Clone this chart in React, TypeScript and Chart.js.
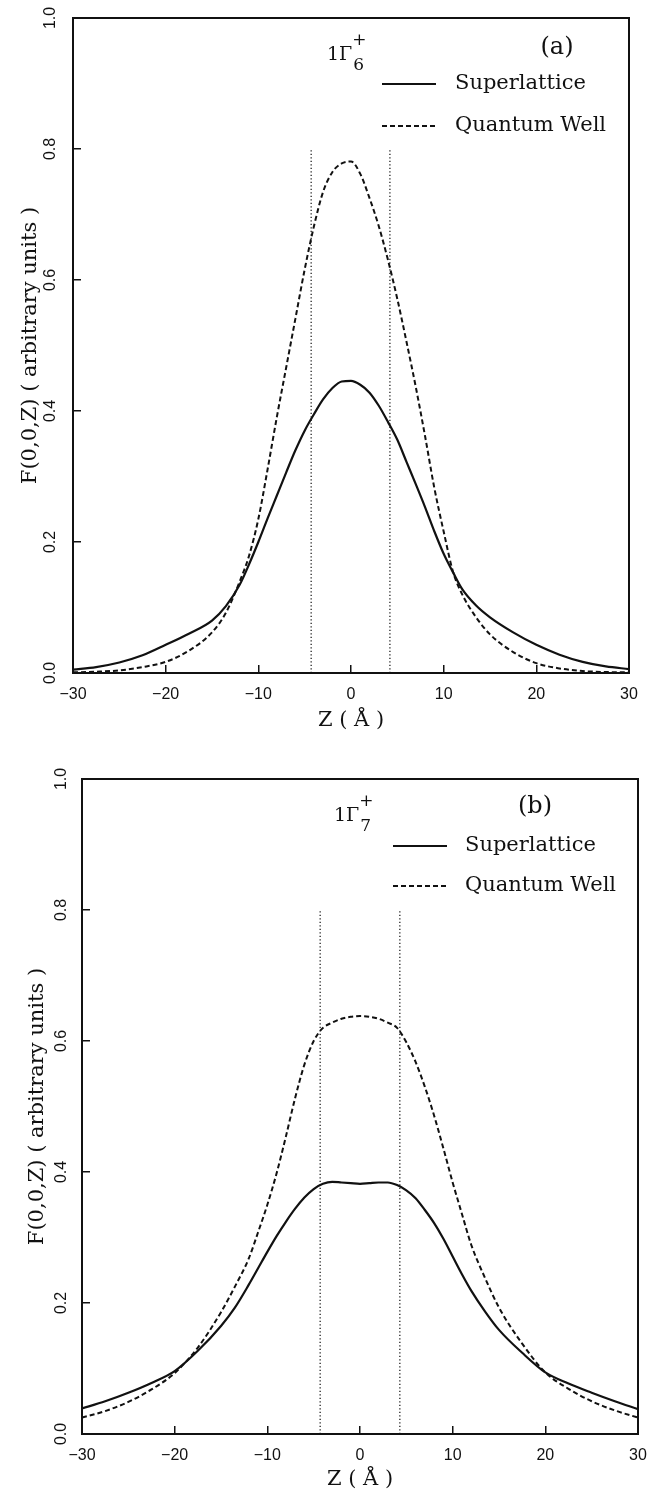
import React, { useEffect, useRef } from "react";
import { Chart, registerables } from "chart.js";

Chart.register(...registerables);

// ---------------- data ----------------
const zGrid = [
  -30, -27.5, -25, -22.5, -20, -17.5, -15, -13.5, -12, -11, -10, -9, -8, -7, -6, -5, -4, -3, -2, -1,
  0, 1, 2, 3, 4, 5, 6, 7, 8, 9, 10, 11, 12, 13.5, 15, 17.5, 20, 22.5, 25, 27.5, 30,
];

// panel (a) 1Γ6+
const superlatticeA = [
  0.005, 0.009, 0.016, 0.027, 0.043, 0.06, 0.08, 0.102, 0.135, 0.166, 0.2, 0.236, 0.271, 0.306, 0.34,
  0.37, 0.395, 0.418, 0.435, 0.445, 0.446, 0.44, 0.428, 0.408, 0.383, 0.356, 0.322, 0.288, 0.253, 0.216,
  0.182, 0.154, 0.128, 0.103, 0.085, 0.062, 0.043, 0.028, 0.017, 0.01, 0.006,
];
const quantumWellA = [
  0.001, 0.002, 0.004, 0.009, 0.017, 0.034, 0.062, 0.092, 0.14, 0.179, 0.235, 0.311, 0.391, 0.466, 0.541,
  0.616, 0.682, 0.735, 0.765, 0.778, 0.781, 0.762, 0.725, 0.682, 0.63, 0.571, 0.505, 0.436, 0.361, 0.282,
  0.216, 0.155, 0.12, 0.085, 0.059, 0.032, 0.015, 0.007, 0.003, 0.0015, 0.001,
];

// panel (b) 1Γ7+
const superlatticeB = [
  0.039, 0.05, 0.063, 0.078, 0.096, 0.127, 0.165, 0.193, 0.228, 0.253, 0.278, 0.302, 0.324, 0.344, 0.361,
  0.374, 0.382, 0.385, 0.384, 0.383, 0.382, 0.383, 0.384, 0.384, 0.38, 0.372, 0.36, 0.342, 0.322, 0.298,
  0.271, 0.244, 0.219, 0.187, 0.159, 0.124, 0.094, 0.077, 0.063, 0.05, 0.038,
];
const quantumWellB = [
  0.025, 0.035, 0.049, 0.068, 0.093, 0.132, 0.186, 0.225, 0.268, 0.308, 0.35, 0.398, 0.454, 0.513, 0.564,
  0.6, 0.62, 0.628, 0.634, 0.637, 0.638, 0.637, 0.634, 0.628, 0.62, 0.598, 0.568, 0.53, 0.486, 0.436,
  0.384, 0.336, 0.289, 0.238, 0.193, 0.138, 0.094, 0.069, 0.05, 0.036, 0.025,
];

// well boundaries (dotted vertical lines)
const wellEdgesA = [-4.3, 4.2];
const wellEdgesB = [-4.3, 4.3];
const wellLineTop = 0.8;

const seriesNames = ["Superlattice", "Quantum Well"];
const zMin = -30;
const zMax = 30;
const zStep = 10;
const fMin = 0;
const fMax = 1;
const fStep = 0.2;
const X_TITLE = "Z ( Å )";
const Y_TITLE = "F(0,0,Z) ( arbitrary units )";

// ---------------- style ----------------
const INK = "#111";
const SERIF = '"DejaVu Serif", "Liberation Serif", serif';
const SANS = '"Liberation Sans", Arial, sans-serif';
const DASH = [5, 3];
const DOT = [1.2, 2.3];
const W = 654;

type Panel = {
  height: number;
  area: { left: number; right: number; top: number; bottom: number };
  z: number[];
  superlattice: number[];
  quantumWell: number[];
  wells: number[];
  sub: string;
  tag: string;
  tagX: number;
  tagDy: number;
  gammaX: number;
  legendX: number;
  legendTextX: number;
  legendDy: number[];
  yTitlePad: number;
  yTickPad: number;
  xTitlePad: number;
};

const panelA: Panel = {
  height: 746,
  area: { left: 73, right: 629, top: 18, bottom: 673 },
  z: zGrid,
  superlattice: superlatticeA,
  quantumWell: quantumWellA,
  wells: wellEdgesA,
  sub: "6",
  tag: "(a)",
  tagX: 557,
  tagDy: 30,
  gammaX: 327,
  legendX: 382,
  legendTextX: 455,
  legendDy: [66, 108],
  yTitlePad: 18,
  yTickPad: 19,
  xTitlePad: 13,
};

const panelB: Panel = {
  height: 747,
  area: { left: 82, right: 638, top: 33, bottom: 688 },
  z: zGrid,
  superlattice: superlatticeB,
  quantumWell: quantumWellB,
  wells: wellEdgesB,
  sub: "7",
  tag: "(b)",
  tagX: 535,
  tagDy: 28,
  gammaX: 334,
  legendX: 393,
  legendTextX: 465,
  legendDy: [67, 107],
  yTitlePad: 25,
  yTickPad: 17,
  xTitlePad: 1,
};

function makeAnnotations(p: Panel) {
  return {
    id: "annotations",
    afterDraw(chart: any) {
      const ctx: CanvasRenderingContext2D = chart.ctx;
      const a = chart.chartArea;
      ctx.save();
      // frame
      ctx.strokeStyle = INK;
      ctx.lineWidth = 2;
      ctx.setLineDash([]);
      ctx.strokeRect(a.left, a.top, a.right - a.left, a.bottom - a.top);

      ctx.fillStyle = INK;
      // state label 1Γ with sub/superscript
      ctx.textAlign = "left";
      ctx.textBaseline = "alphabetic";
      ctx.font = `19px ${SERIF}`;
      ctx.fillText("1Γ", p.gammaX, a.top + 42);
      const gw = ctx.measureText("1Γ").width;
      ctx.font = `17px ${SERIF}`;
      ctx.fillText("+", p.gammaX + gw, a.top + 27);
      ctx.fillText(p.sub, p.gammaX + gw + 1, a.top + 52);

      // panel tag
      ctx.font = `24px ${SERIF}`;
      ctx.textAlign = "center";
      ctx.textBaseline = "middle";
      ctx.fillText(p.tag, p.tagX, a.top + p.tagDy);

      // legend
      ctx.font = `21px ${SERIF}`;
      ctx.textAlign = "left";
      p.legendDy.forEach((dy, i) => {
        const y = a.top + dy;
        ctx.beginPath();
        ctx.lineWidth = 2;
        ctx.setLineDash(i === 0 ? [] : DASH);
        ctx.moveTo(p.legendX, y);
        ctx.lineTo(p.legendX + 54, y);
        ctx.stroke();
        ctx.setLineDash([]);
        ctx.fillText(seriesNames[i], p.legendTextX, y);
      });
      ctx.restore();
    },
  };
}

function PanelChart({ panel }: { panel: Panel }) {
  const ref = useRef<HTMLCanvasElement>(null);
  useEffect(() => {
    const canvas = ref.current;
    if (!canvas) return;
    const { area, height } = panel;
    const pts = (ys: number[]) => panel.z.map((x, i) => ({ x, y: ys[i] }));
    const chart = new Chart(canvas, {
      type: "line",
      data: {
        datasets: [
          {
            label: seriesNames[0],
            data: pts(panel.superlattice),
            borderColor: INK,
            borderWidth: 2.2,
            pointRadius: 0,
            cubicInterpolationMode: "monotone",
            fill: false,
          },
          {
            label: seriesNames[1],
            data: pts(panel.quantumWell),
            borderColor: INK,
            borderWidth: 2,
            borderDash: DASH,
            pointRadius: 0,
            cubicInterpolationMode: "monotone",
            fill: false,
          },
          ...panel.wells.map((w) => ({
            label: "well edge",
            data: [
              { x: w, y: fMin },
              { x: w, y: wellLineTop },
            ],
            borderColor: INK,
            borderWidth: 1.2,
            borderDash: DOT,
            pointRadius: 0,
            fill: false,
          })),
        ],
      } as any,
      options: {
        responsive: false,
        animation: false,
        events: [],
        layout: {
          padding: { left: 0, top: area.top, right: W - area.right, bottom: 0 },
        },
        plugins: {
          legend: { display: false },
          tooltip: { enabled: false },
        },
        scales: {
          x: {
            type: "linear",
            min: zMin,
            max: zMax,
            border: { display: false },
            grid: {
              drawOnChartArea: false,
              drawTicks: true,
              tickLength: -8,
              color: INK,
              lineWidth: 1.5,
            },
            ticks: {
              stepSize: zStep,
              color: INK,
              padding: 20,
              maxRotation: 0,
              autoSkip: false,
              font: { family: SANS, size: 16 },
              callback: (v: any) => (Number(v) < 0 ? "\u2212" + Math.abs(Number(v)) : String(v)),
            },
            title: {
              display: true,
              text: X_TITLE,
              color: INK,
              font: { family: SERIF, size: 21 },
              padding: { top: 0, bottom: panel.xTitlePad },
            },
            afterFit: (s: any) => {
              s.height = height - area.bottom;
              s.paddingLeft = 0;
              s.paddingRight = 0;
            },
          },
          y: {
            type: "linear",
            min: fMin,
            max: fMax,
            border: { display: false },
            grid: {
              drawOnChartArea: false,
              drawTicks: true,
              tickLength: -8,
              color: INK,
              lineWidth: 1.5,
            },
            ticks: {
              stepSize: fStep,
              color: INK,
              padding: panel.yTickPad,
              minRotation: 90,
              maxRotation: 90,
              crossAlign: "center",
              autoSkip: false,
              font: { family: SANS, size: 16 },
              callback: (v: any) => Number(v).toFixed(1),
            },
            title: {
              display: true,
              text: Y_TITLE,
              color: INK,
              font: { family: SERIF, size: 21 },
              padding: { top: panel.yTitlePad, bottom: 0 },
            },
            afterFit: (s: any) => {
              s.width = area.left;
              s.paddingTop = 0;
              s.paddingBottom = 0;
            },
          },
        },
      } as any,
      plugins: [makeAnnotations(panel)],
    });
    return () => chart.destroy();
  }, [panel]);
  return (
    <canvas
      ref={ref}
      width={W}
      height={panel.height}
      style={{ display: "block", width: W, height: panel.height }}
    />
  );
}

export default function App() {
  return (
    <div
      style={{
        position: "absolute",
        left: 0,
        top: 0,
        width: W,
        height: 1493,
        background: "#fff",
      }}
    >
      <PanelChart panel={panelA} />
      <PanelChart panel={panelB} />
    </div>
  );
}
